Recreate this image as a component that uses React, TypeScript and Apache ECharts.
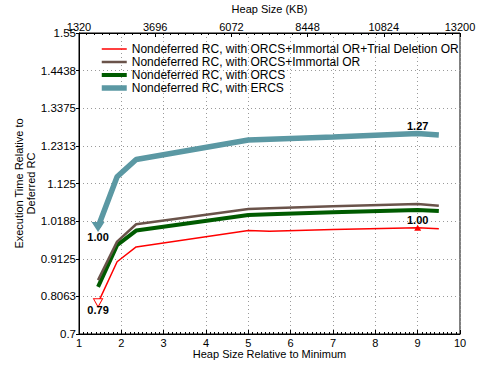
import React, { useEffect, useRef } from "react";
import * as echarts from "echarts";

const xValues = [1.45, 1.9, 2.35, 5.0, 5.5, 7.0, 9.0, 9.5];
const redValues = [0.788, 0.904, 0.946, 0.992, 0.99, 0.995, 1.0, 0.997];
const brownValues = [0.852, 0.961, 1.01, 1.053, 1.055, 1.061, 1.067, 1.062];
const greenValues = [0.833, 0.951, 0.992, 1.036, 1.038, 1.044, 1.05, 1.047];
const tealValues = [1.002, 1.144, 1.193, 1.248, 1.25, 1.256, 1.266, 1.262];

const seriesNames = [
  "Nondeferred RC, with ORCS+Immortal OR+Trial Deletion OR",
  "Nondeferred RC, with ORCS+Immortal OR",
  "Nondeferred RC, with ORCS",
  "Nondeferred RC, with ERCS",
];
const seriesColors = ["#ff0000", "#6a534a", "#005b00", "#5b98a3"];
const seriesWidths = [1.5, 2.5, 4, 5.5];
const topTickLabels = ["1320", "3696", "6072", "8448", "10824", "13200"];
const yTickLabels = ["0.7", "0.8063", "0.9125", "1.0188", "1.125", "1.2313", "1.3375", "1.4438", "1.55"];

const FONT = "Arial, 'Liberation Sans', Helvetica, sans-serif";

const labelStyle = (position: string, offset: number[]) => ({
  show: true,
  position,
  offset,
  distance: 1,
  formatter: (p: any) => Number(p.value[1]).toFixed(2),
  fontWeight: "bold",
  fontSize: 11,
  color: "#000",
  fontFamily: FONT,
});

export default function App() {
  const ref = useRef<HTMLDivElement>(null);
  useEffect(() => {
    if (!ref.current) return;
    const chart = echarts.init(ref.current, null, { renderer: "svg" });

    const build = (ys: number[], marks: Record<number, any>) =>
      xValues.map((x, i) => ({ value: [x, ys[i]], ...(marks[i] || {}) }));

    const redData = build(redValues, {
      0: {
        symbol: "triangle",
        symbolRotate: 180,
        symbolSize: [9, 8],
        itemStyle: { color: "#fff", borderColor: "#ff0000", borderWidth: 1 },
        label: labelStyle("bottom", [0, -4]),
      },
      6: {
        symbol: "triangle",
        symbolSize: [7, 6],
        itemStyle: { color: "#ff0000" },
        label: labelStyle("top", [0, 2]),
      },
    });
    const tealData = build(tealValues, {
      0: {
        symbol: "triangle",
        symbolRotate: 180,
        symbolSize: [13, 10],
        itemStyle: { color: "#5b98a3" },
        label: labelStyle("bottom", [0, -2]),
      },
      6: {
        symbol: "triangle",
        symbolSize: [6, 5],
        itemStyle: { color: "#5b98a3" },
        label: labelStyle("top", [0, 1]),
      },
    });

    const mk = (i: number, data: any[], z: number) => ({
      name: seriesNames[i],
      type: "line",
      xAxisIndex: 0,
      yAxisIndex: 1,
      data,
      symbol: "none",
      showSymbol: true,
      lineStyle: { color: seriesColors[i], width: seriesWidths[i] },
      itemStyle: { color: seriesColors[i] },
      color: seriesColors[i],
      z,
    });

    chart.setOption({
      animation: false,
      backgroundColor: "#fff",
      textStyle: { fontFamily: FONT },
      grid: {
        left: 79,
        right: 19,
        top: 33,
        bottom: 38,
        containLabel: false,
        outerBoundsMode: "none",
        show: true,
        borderColor: "#000",
        borderWidth: 1,
        backgroundColor: "transparent",
      },
      legend: {
        orient: "vertical",
        left: 94,
        top: 38,
        itemWidth: 25,
        itemHeight: 14,
        itemGap: 1,
        itemStyle: { opacity: 0 },
        textStyle: { fontSize: 12, color: "#000", fontFamily: FONT },
        data: seriesNames.map((n, i) => ({
          name: n,
          itemStyle: { opacity: 0 },
          lineStyle: { width: seriesWidths[i], color: seriesColors[i] },
        })),
      },
      xAxis: [
        {
          type: "value",
          position: "bottom",
          min: 1,
          max: 10,
          interval: 1,
          name: "Heap Size Relative to Minimum",
          nameLocation: "middle",
          nameGap: 14,
          nameMoveOverlap: false,
          nameTextStyle: { fontSize: 11, color: "#000", fontFamily: FONT },
          axisLine: { lineStyle: { color: "#000", width: 1 } },
          axisTick: { inside: true, length: 4, lineStyle: { color: "#000" } },
          minorTick: { show: true, splitNumber: 10, length: 2, lineStyle: { color: "#000" } },
          axisLabel: { fontSize: 11, color: "#000", margin: 3, fontFamily: FONT },
          splitLine: { show: true, lineStyle: { color: "#9a9a9a", type: [1, 3], width: 1 } },
        },
        {
          type: "value",
          position: "top",
          min: 0,
          max: 5,
          interval: 1,
          name: "Heap Size (KB)",
          nameLocation: "middle",
          nameGap: 19,
          nameMoveOverlap: false,
          nameTextStyle: { fontSize: 11, color: "#000", fontFamily: FONT },
          axisLine: { lineStyle: { color: "#000", width: 1 } },
          axisTick: { inside: true, length: 4, lineStyle: { color: "#000" } },
          minorTick: { show: true, splitNumber: 10, length: 2, lineStyle: { color: "#000" } },
          axisLabel: {
            fontSize: 11,
            color: "#000",
            margin: 1,
            fontFamily: FONT,
            formatter: (v: number) => topTickLabels[Math.round(v)] ?? "",
          },
          splitLine: { show: false },
        },
      ],
      yAxis: [
        {
          type: "value",
          position: "left",
          min: 0,
          max: 8,
          interval: 1,
          name: "Execution Time Relative to\nDeferred RC",
          nameLocation: "middle",
          nameGap: 42,
          nameMoveOverlap: false,
          nameTextStyle: { fontSize: 11, color: "#000", fontFamily: FONT, lineHeight: 12 },
          axisLine: { show: true, lineStyle: { color: "#000", width: 1 } },
          axisTick: { show: true, inside: false, length: 3, lineStyle: { color: "#000" } },
          axisLabel: {
            fontSize: 11.5,
            color: "#000",
            margin: 3,
            fontFamily: FONT,
            formatter: (v: number) => yTickLabels[Math.round(v)] ?? "",
          },
          splitLine: { show: true, lineStyle: { color: "#9a9a9a", type: [1, 3], width: 1 } },
        },
        {
          type: "value",
          position: "left",
          min: 0.7,
          max: 1.55,
          show: false,
          splitLine: { show: false },
        },
      ],
      series: [
        mk(0, redData, 5),
        mk(1, build(brownValues, {}), 4),
        mk(2, build(greenValues, {}), 3),
        mk(3, tealData, 2),
      ],
    });
    return () => chart.dispose();
  }, []);
  return <div ref={ref} style={{ width: 479, height: 372, position: "absolute", left: 0, top: 0 }} />;
}
